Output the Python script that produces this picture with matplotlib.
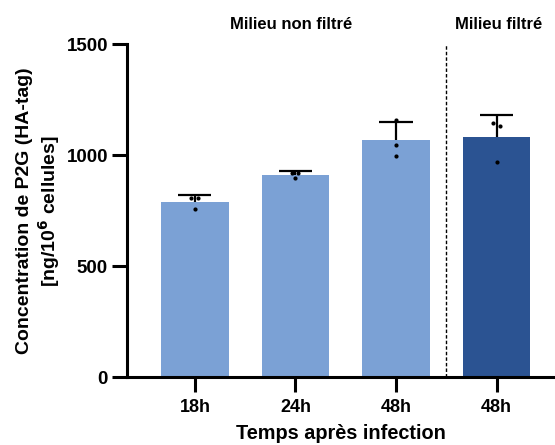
import numpy as np
import matplotlib
matplotlib.use("Agg")
import matplotlib.pyplot as plt

plt.rcParams["font.family"] = ["Liberation Sans", "DejaVu Sans"]
plt.rcParams["font.weight"] = "bold"

# Data
groups = ["18h", "24h", "48h", "48h"]
replicates = [
    [806, 806, 755],
    [920, 920, 896],
    [1158, 1047, 996],
    [1143, 1132, 970],
]
jitter = [
    [-0.035, 0.035, 0.0],
    [-0.03, 0.03, 0.0],
    [0.0, 0.0, 0.0],
    [-0.037, 0.033, 0.0],
]
colors = ["#7BA1D5", "#7BA1D5", "#7BA1D5", "#2B5392"]
yticks = [0, 500, 1000, 1500]

means = np.array([np.mean(r) for r in replicates])
sds = np.array([np.std(r, ddof=1) for r in replicates])
x = np.arange(len(groups))

fig = plt.figure(figsize=(5.55, 4.45), dpi=100)
ax = fig.add_axes([0.2297, 0.1528, 0.7703, 0.7483])

ax.bar(x, means, width=0.67, color=colors, edgecolor="none", zorder=2)
# upper-only SD bars
cap = 0.165
ax.vlines(x, means, means + sds, color="black", linewidth=1.6, zorder=3)
ax.hlines(means + sds, x - cap, x + cap, color="black", linewidth=1.6, zorder=3)
for i, reps in enumerate(replicates):
    ax.scatter(x[i] + np.array(jitter[i]), reps, s=9, color="black",
               linewidths=0, zorder=4)

# separator between non-filtered and filtered
ax.axvline(2.5, color="black", linestyle=(0, (2.5, 1.5)), linewidth=1.0)

ax.set_xlim(-0.67, 3.58)
ax.set_ylim(0, 1500)
ax.set_yticks(yticks)
ax.set_xticks(x)
ax.set_xticklabels(groups)

for s in ["top", "right"]:
    ax.spines[s].set_visible(False)
for s in ["left", "bottom"]:
    ax.spines[s].set_linewidth(2.2)
ax.tick_params(axis="both", width=2.2, length=10.5)
ax.tick_params(axis="y", pad=3.5, labelsize=13.5)
ax.tick_params(axis="x", pad=5, labelsize=13)
for lab in ax.get_xticklabels() + ax.get_yticklabels():
    lab.set_fontweight("bold")

ax.set_xlabel("Temps après infection", fontsize=14.3, fontweight="bold", labelpad=6)
ax.set_ylabel("Concentration de P2G (HA-tag)\n[ng/10$^{\\mathbf{6}}$ cellules]",
              fontsize=14, fontweight="bold", labelpad=3, linespacing=1.2)

ax.text(0.96, 1.06, "Milieu non filtré", transform=ax.get_xaxis_transform(),
        ha="center", va="center", fontsize=12, fontweight="bold")
ax.text(3.02, 1.06, "Milieu filtré", transform=ax.get_xaxis_transform(),
        ha="center", va="center", fontsize=12, fontweight="bold")

fig.savefig("out.png", dpi=100)
